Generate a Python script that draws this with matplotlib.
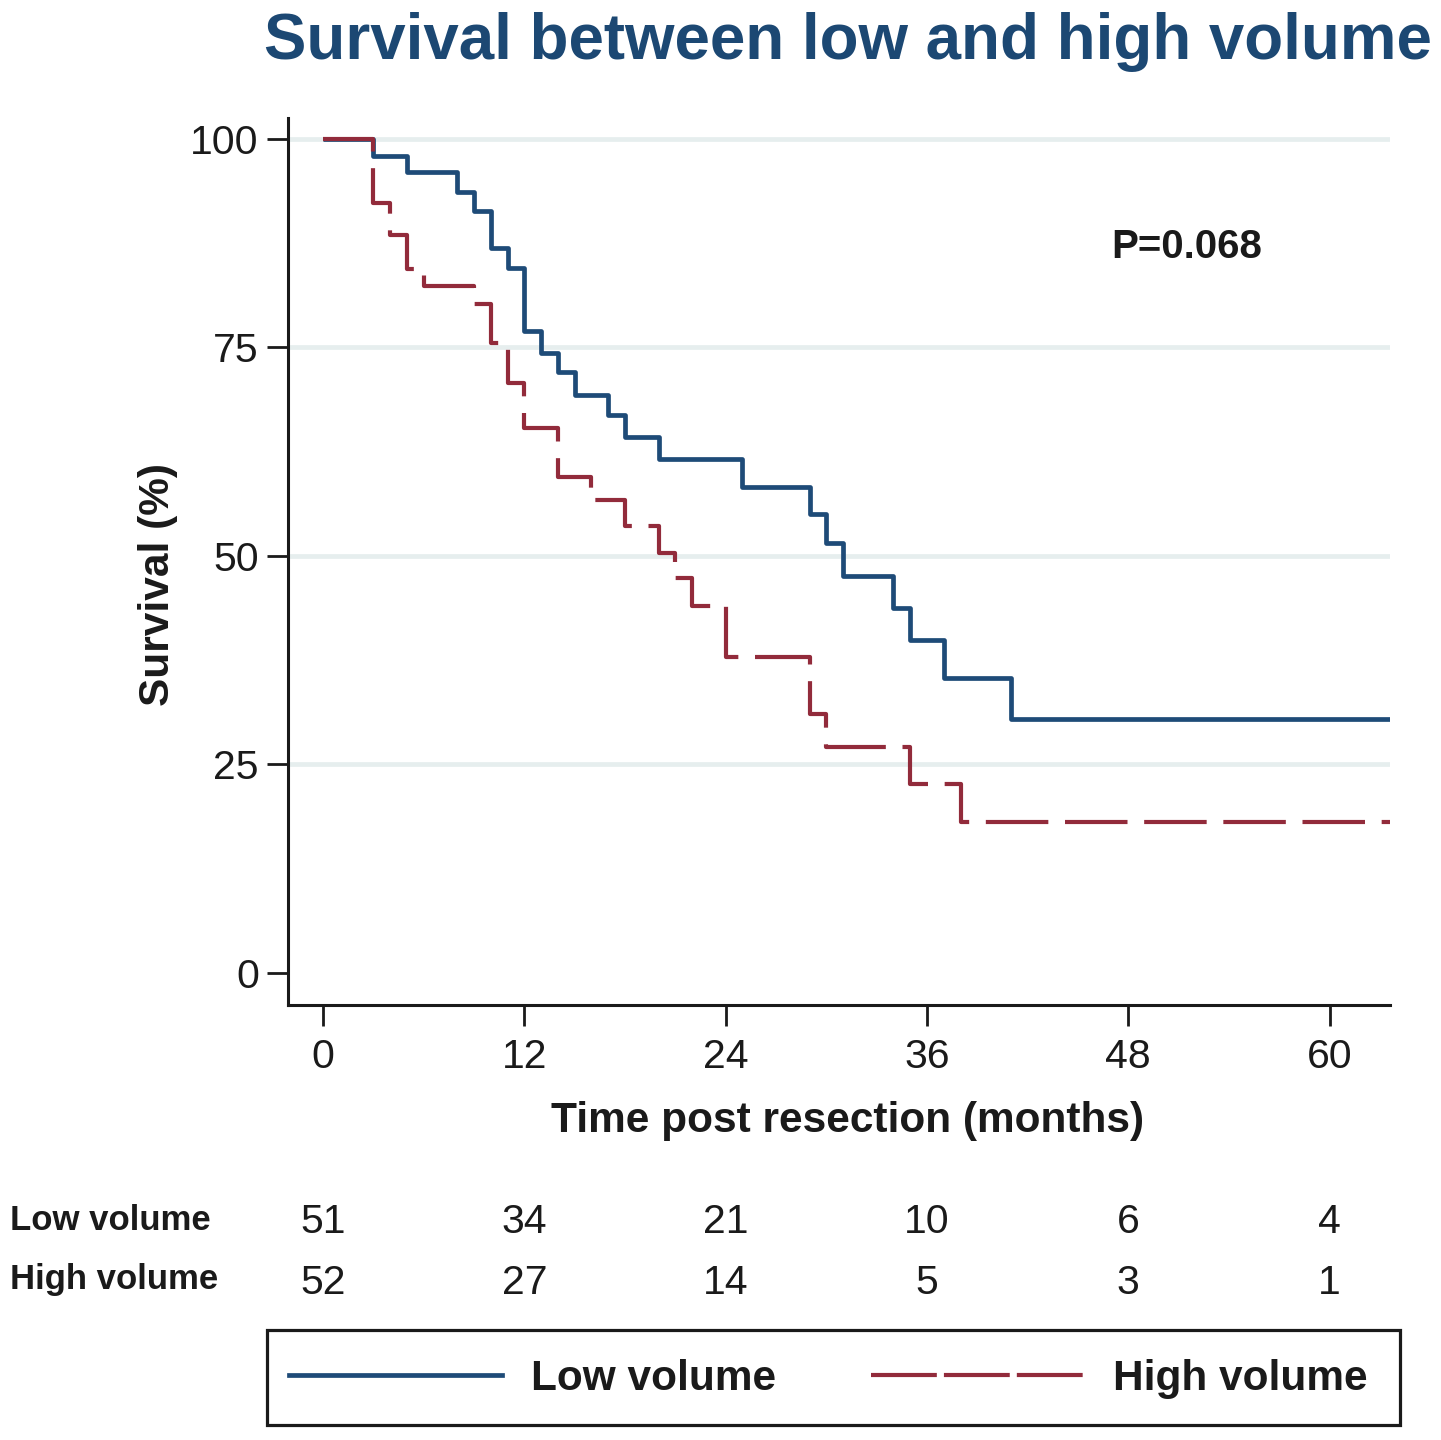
import matplotlib
matplotlib.use("Agg")
import matplotlib.pyplot as plt
from matplotlib.lines import Line2D
from matplotlib.patches import Rectangle
import matplotlib.transforms as mtransforms

plt.rcParams['font.family'] = ['Liberation Sans', 'DejaVu Sans']

# ---- data ----
low_times = [0, 3, 5, 8, 9, 10, 11, 12, 13, 14, 15, 17, 18, 20, 25, 29, 30, 31, 34, 35, 37, 41]
low_surv = [100, 98.0, 96.0, 93.6, 91.3, 86.9, 84.5, 77.0, 74.3, 72.0, 69.3, 66.9, 64.3,
            61.6, 58.3, 55.0, 51.6, 47.6, 43.8, 39.9, 35.4, 30.5]
high_times = [0, 3, 4, 5, 6, 9, 10, 11, 12, 14, 16, 18, 20, 21, 22, 24, 29, 30, 35, 38]
high_surv = [100, 92.3, 88.5, 84.4, 82.4, 80.2, 75.5, 70.7, 65.3, 59.5, 56.7, 53.6, 50.3,
             47.3, 44.0, 37.9, 31.0, 27.1, 22.6, 18.1]
follow_end = 63.6

risk_times = [0, 12, 24, 36, 48, 60]
risk_low = [51, 34, 21, 10, 6, 4]
risk_high = [52, 27, 14, 5, 3, 1]

x_ticks = [0, 12, 24, 36, 48, 60]
y_ticks = [0, 25, 50, 75, 100]
grid_levels = [25, 50, 75, 100]

title = "Survival between low and high volume"
xlabel = "Time post resection (months)"
ylabel = "Survival (%)"
p_text = "P=0.068"
group_labels = ["Low volume", "High volume"]

blue = "#1E4B78"
red = "#922B3B"
title_col = "#1C4873"
grid_col = "#E6EEEE"
txt = "#1a1a1a"

fig = plt.figure(figsize=(14.41, 14.40), dpi=100)
ax = fig.add_axes([288/1441, 1-1005/1440, (1390-288)/1441, (1005-118)/1440])

for g in grid_levels:
    ax.axhline(g, color=grid_col, lw=3.4, zorder=0)

ax.step(low_times + [follow_end], low_surv + [low_surv[-1]], where='post',
        color=blue, lw=3.4, zorder=2, solid_capstyle='butt')
ax.step(high_times + [follow_end], high_surv + [high_surv[-1]], where='post',
        color=red, lw=3.0, zorder=3, dashes=(15, 4), dash_capstyle='butt')

ax.set_xlim(-2.09, 63.6)
ax.set_ylim(-3.84, 102.5)
ax.set_xticks(x_ticks)
ax.set_yticks(y_ticks)
ax.tick_params(axis='both', direction='out', length=15, width=2.0, labelsize=29.5,
               colors=txt)
ax.tick_params(axis='x', pad=9)
ax.tick_params(axis='y', pad=6)
for s in ['top', 'right']:
    ax.spines[s].set_visible(False)
for s in ['left', 'bottom']:
    ax.spines[s].set_linewidth(2.2)
    ax.spines[s].set_color(txt)

ax.text(47.0, 85.7, p_text, fontsize=29, fontweight='bold', color=txt,
        ha='left', va='baseline')

fig.text(848/1441, 1-59/1440, title, fontsize=45.8, fontweight='bold', color=title_col,
         ha='center', va='baseline')
fig.text(848/1441, 1-1132/1440, xlabel, fontsize=30.5, fontweight='bold', color=txt,
         ha='center', va='baseline')
fig.text(158/1441, 1-585/1440, ylabel, fontsize=30.5, fontweight='bold', color=txt,
         ha='center', va='center', rotation=90)

# risk table
trans = mtransforms.blended_transform_factory(ax.transData, fig.transFigure)
row_y = [1-1222/1440, 1-1283/1440]
label_y = [1-1220/1440, 1-1280/1440]
for lab, yy in zip(group_labels, label_y):
    fig.text(10/1441, yy, lab, fontsize=25, fontweight='bold', color=txt,
             ha='left', va='center')
for vals, yy in zip([risk_low, risk_high], row_y):
    for t, v in zip(risk_times, vals):
        ax.text(t, yy, str(v), transform=trans, fontsize=29.5, color=txt,
                ha='center', va='center')

# legend
fig.patches.append(Rectangle((267/1441, 1-1425/1440), (1400-267)/1441, (1425-1330)/1440,
                             transform=fig.transFigure, fill=False, edgecolor=txt,
                             lw=2.3, zorder=5))
handles = [Line2D([], [], color=blue, lw=3.4),
           Line2D([], [], color=red, lw=3.0, dashes=(15.8, 1.7), dash_capstyle='butt')]
leg = fig.legend(handles, group_labels, loc='center',
                 bbox_to_anchor=(828/1441, 1-1379/1440), ncol=2, frameon=False,
                 prop={'size': 30.5, 'weight': 'bold'}, handlelength=5.03,
                 handletextpad=0.68, columnspacing=2.24)
for t in leg.get_texts():
    t.set_color(txt)

fig.savefig("out.png", dpi=100)
